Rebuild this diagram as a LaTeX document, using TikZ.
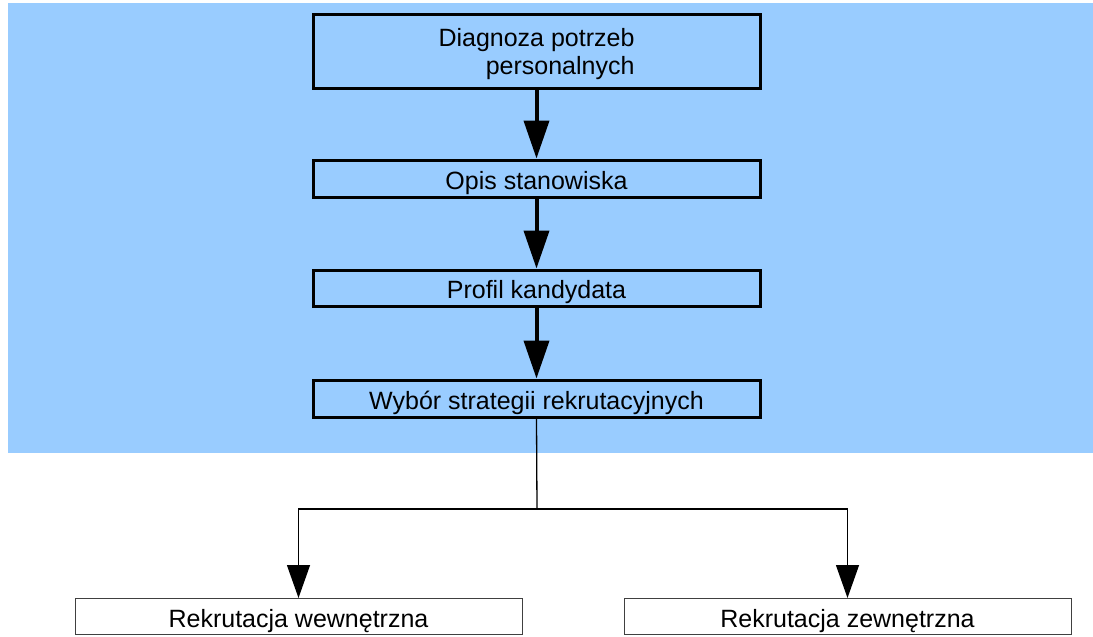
\documentclass[tikz,border=0pt]{standalone}
\usepackage{fontspec}
\setmainfont{Liberation Sans}
\usetikzlibrary{arrows.meta}
\definecolor{panelblue}{HTML}{99CCFF}
\begin{document}
\begin{tikzpicture}[x=1pt,y=-1pt,
  mainbox/.style={draw=black, line width=3pt, fill=panelblue, minimum width=447pt,
    inner sep=0pt, font=\fontsize{25}{28}\selectfont},
  onerow/.style={text height=21pt, text depth=0pt},
  endbox/.style={draw=black!75, line width=1pt, fill=white, minimum width=447pt,
    minimum height=36pt, inner sep=0pt, text height=22pt, text depth=0pt,
    font=\fontsize{25}{28}\selectfont},
  bigarrow/.style={line width=4pt, -{Triangle[length=38pt,width=25pt]}},
  smallarrow/.style={line width=1.3pt, -{Triangle[length=33pt,width=23pt]}},
  joinline/.style={line width=1.3pt}]
\useasboundingbox (0,0) rectangle (1093,637);
% shaded panel behind the main chain
\fill[panelblue] (8,3) rectangle (1093,453);

\node[mainbox, minimum height=74pt, align=right, text depth=0pt] (diag) at (536.5,51.5)
  {Diagnoza potrzeb\\personalnych};
\node[mainbox, onerow, minimum height=37pt] (opis) at (536.5,178.5) {Opis stanowiska};
\node[mainbox, onerow, minimum height=36pt] (prof) at (536.5,288) {Profil kandydata};
\node[mainbox, onerow, minimum height=37pt] (wyb) at (536.5,398.5) {Wybór strategii rekrutacyjnych};

\node[endbox] (wew) at (298.5,616.5) {Rekrutacja wewnętrzna};
\node[endbox] (zew) at (847.5,616.5) {Rekrutacja zewnętrzna};

\draw[bigarrow] (diag) -- (opis);
\draw[bigarrow] (opis) -- (prof);
\draw[bigarrow] (prof) -- (wyb);

% branching to the two recruitment paths
\coordinate (jm) at (537,509);
\coordinate (jl) at (298.5,509);
\coordinate (jr) at (847.5,509);
\draw[joinline] (wyb.south) -- (jm);
\draw[joinline, line cap=rect] (jl) -- (jr);
\draw[smallarrow] (jl) -- (wew.north);
\draw[smallarrow] (jr) -- (zew.north);
\end{tikzpicture}
\end{document}
